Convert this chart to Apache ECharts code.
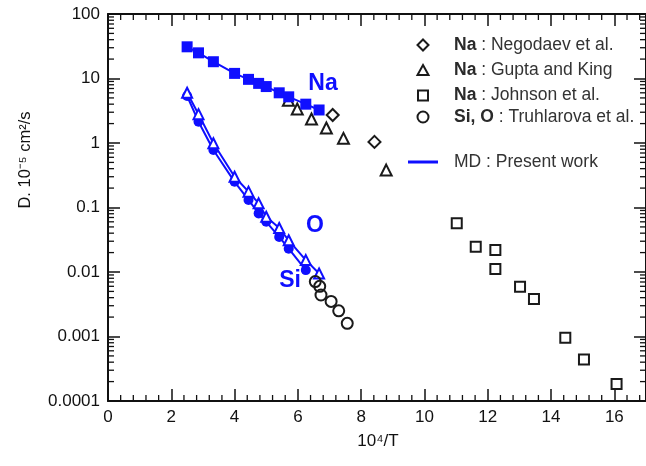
<!DOCTYPE html>
<html>
<head>
<meta charset="utf-8">
<script src="https://cdn.jsdelivr.net/npm/echarts@6/dist/echarts.min.js"></script>
<style>
html,body{margin:0;padding:0;background:#fff;}
#chart{width:646px;height:466px;}
</style>
</head>
<body>
<div id="chart"></div>
<script>
// ---- data ----
const mdX      = [2.5, 2.86, 3.33, 4.0, 4.44, 4.76, 5.0, 5.41, 5.71, 6.25, 6.67];
const naMD     = [31, 25, 18.2, 12.0, 9.7, 8.4, 7.5, 6.0, 5.2, 4.0, 3.25];
const siMD     = [5.35, 2.14, 0.78, 0.25, 0.131, 0.081, 0.060, 0.035, 0.023, 0.0107];
const oMD      = [6.0, 2.8, 0.99, 0.30, 0.176, 0.116, 0.072, 0.048, 0.031, 0.0153, 0.0095];

const negodaevX = [7.10, 8.42];
const negodaevY = [2.72, 1.04];
const guptaX    = [5.70, 5.98, 6.43, 6.90, 7.44, 8.79];
const guptaY    = [4.6, 3.37, 2.35, 1.71, 1.18, 0.38];
const johnsonX  = [11.02, 11.62, 12.24, 12.24, 13.02, 13.46, 14.45, 15.04, 16.07];
const johnsonY  = [0.057, 0.0247, 0.0219, 0.0111, 0.0059, 0.0038, 0.00096, 0.00044, 0.000184];
const truhX     = [6.55, 6.69, 6.73, 7.05, 7.29, 7.56];
const truhY     = [0.0071, 0.0060, 0.0044, 0.0035, 0.0025, 0.0016];

const yTickLabels = ['0.0001', '0.001', '0.01', '0.1', '1', '10', '100'];
const xTickLabels = ['0', '2', '4', '6', '8', '10', '12', '14', '16'];

// ---- helpers ----
const X_MIN = 0, X_MAX = 17, Y_MIN = 0.0001, Y_MAX = 100;
const BLUE = '#0f0fff';
const INK = '#111';
const MARK = '#1a1a1a';
const FONT = '"Liberation Sans", Arial, Helvetica, sans-serif';
const zip = (xs, ys) => xs.map((x, i) => [x, ys[i]]);

// minor tick positions (x: every 0.4, y: 2..9 per decade)
const minorTicks = [];
for (let i = 1; i * 0.4 < X_MAX; i++) {
  const v = Math.round(i * 0.4 * 10) / 10;
  if (Math.abs(v / 2 - Math.round(v / 2)) > 1e-6) minorTicks.push([v, Y_MIN, 0]);
}
for (let e = -4; e < 2; e++) {
  for (let m = 2; m <= 9; m++) minorTicks.push([X_MIN, m * Math.pow(10, e), 1]);
}

const chart = echarts.init(document.getElementById('chart'), null, {renderer: 'canvas'});

const baseX = {
  type: 'value', min: X_MIN, max: X_MAX, interval: 2,
  axisLine: {show: true, onZero: false, lineStyle: {color: INK, width: 2}},
  axisTick: {show: true, inside: true, length: 12, lineStyle: {color: INK, width: 1.5}},
  splitLine: {show: false}
};
const baseY = {
  type: 'log', logBase: 10, min: Y_MIN, max: Y_MAX, splitNumber: 6,
  axisLine: {show: true, onZero: false, lineStyle: {color: INK, width: 2}},
  axisTick: {show: true, inside: true, length: 12, lineStyle: {color: INK, width: 1.5}},
  splitLine: {show: false}
};

const openStyle = {color: 'rgba(255,255,255,0)', borderColor: MARK, borderWidth: 2, opacity: 1};
const legTxt = '17.5px ' + FONT;
const richB = {b: {fontWeight: 'bold', fontSize: 17.5, fontFamily: FONT, fill: '#2a2a2a'}};

chart.setOption({
  animation: false,
  backgroundColor: '#fff',
  grid: {left: 108, top: 14, width: 546, height: 387, containLabel: false},
  xAxis: [
    Object.assign({}, baseX, {
      position: 'bottom',
      axisLabel: {show: true, fontSize: 17, color: INK, fontFamily: FONT, margin: 8, showMaxLabel: false,
        formatter: v => { const i = Math.round(v / 2); return (Math.abs(v - i * 2) < 1e-6 && i < xTickLabels.length) ? xTickLabels[i] : ''; }}
    }),
    Object.assign({}, baseX, {position: 'top', axisLabel: {show: false}})
  ],
  yAxis: [
    Object.assign({}, baseY, {
      position: 'left',
      axisLabel: {show: true, fontSize: 17, color: INK, fontFamily: FONT, margin: 8,
        formatter: v => yTickLabels[Math.round(Math.log10(v)) + 4] || ''}
    }),
    Object.assign({}, baseY, {position: 'right', axisLabel: {show: false}})
  ],
  series: [
    {
      type: 'custom', name: 'minor ticks', silent: true, clip: false, z: 1,
      encode: {x: 0, y: 1},
      renderItem: function (params, api) {
        const kind = api.value(2);
        const v = kind === 0 ? api.value(0) : api.value(1);
        const st = {stroke: INK, lineWidth: 1.3};
        if (kind === 0) {
          const b = api.coord([v, Y_MIN]), t = api.coord([v, Y_MAX]);
          return {type: 'group', children: [
            {type: 'line', shape: {x1: b[0], y1: b[1], x2: b[0], y2: b[1] - 6}, style: st},
            {type: 'line', shape: {x1: t[0], y1: t[1], x2: t[0], y2: t[1] + 6}, style: st}
          ]};
        }
        const l = api.coord([X_MIN, v]), r = api.coord([X_MAX, v]);
        return {type: 'group', children: [
          {type: 'line', shape: {x1: l[0], y1: l[1], x2: l[0] + 6, y2: l[1]}, style: st},
          {type: 'line', shape: {x1: r[0], y1: r[1], x2: r[0] - 6, y2: r[1]}, style: st}
        ]};
      },
      data: minorTicks
    },
    {type: 'scatter', name: 'Gupta and King', symbol: 'triangle', symbolSize: 11, itemStyle: openStyle, data: zip(guptaX, guptaY), z: 2},
    {type: 'scatter', name: 'Negodaev et al.', symbol: 'diamond', symbolSize: 12, itemStyle: openStyle, data: zip(negodaevX, negodaevY), z: 2},
    {type: 'scatter', name: 'Johnson et al.', symbol: 'rect', symbolSize: 10, itemStyle: openStyle, data: zip(johnsonX, johnsonY), z: 2},
    {type: 'line', name: 'Na MD', symbol: 'rect', symbolSize: 11, showSymbol: true,
      lineStyle: {color: BLUE, width: 2}, itemStyle: {color: BLUE}, data: zip(mdX, naMD), z: 3},
    {type: 'line', name: 'Si MD', symbol: 'circle', symbolSize: 10, showSymbol: true,
      lineStyle: {color: BLUE, width: 2}, itemStyle: {color: BLUE}, data: zip(mdX.slice(0, siMD.length), siMD), z: 3},
    {type: 'line', name: 'O MD', symbol: 'triangle', symbolSize: 10, showSymbol: true,
      lineStyle: {color: BLUE, width: 2}, itemStyle: {color: '#fff', borderColor: BLUE, borderWidth: 2}, data: zip(mdX, oMD), z: 3},
    {type: 'scatter', name: 'Truhlarova et al.', symbol: 'circle', symbolSize: 11, itemStyle: openStyle, data: zip(truhX, truhY), z: 4}
  ],
  graphic: [
    // axis names
    {type: 'text', x: 25, y: 160, rotation: Math.PI / 2,
      style: {text: 'D. 10⁻⁵ cm²/s', font: '16.5px ' + FONT, fill: INK, textAlign: 'center', textVerticalAlign: 'middle'}},
    {type: 'text', x: 378, y: 441,
      style: {text: '10⁴/T', font: '17px ' + FONT, fill: INK, textAlign: 'center', textVerticalAlign: 'middle'}},
    // in-plot labels
    {type: 'text', x: 323, y: 84, style: {text: 'Na', font: 'bold 23px ' + FONT, fill: BLUE, textAlign: 'center', textVerticalAlign: 'middle'}},
    {type: 'text', x: 315, y: 226, style: {text: 'O', font: 'bold 23px ' + FONT, fill: BLUE, textAlign: 'center', textVerticalAlign: 'middle'}},
    {type: 'text', x: 290, y: 281, style: {text: 'Si', font: 'bold 23px ' + FONT, fill: BLUE, textAlign: 'center', textVerticalAlign: 'middle'}},
    // legend symbols
    {type: 'polygon', shape: {points: [[423, 39.5], [428.5, 45], [423, 50.5], [417.5, 45]]}, style: {fill: 'none', stroke: MARK, lineWidth: 2}},
    {type: 'polygon', shape: {points: [[423, 65], [428.5, 75], [417.5, 75]]}, style: {fill: 'none', stroke: MARK, lineWidth: 2}},
    {type: 'rect', shape: {x: 418, y: 90.5, width: 10, height: 10}, style: {fill: 'none', stroke: MARK, lineWidth: 2}},
    {type: 'circle', shape: {cx: 423, cy: 117, r: 5.5}, style: {fill: 'none', stroke: MARK, lineWidth: 2}},
    {type: 'line', shape: {x1: 408, y1: 162, x2: 438, y2: 162}, style: {stroke: BLUE, lineWidth: 3}},
    // legend texts
    {type: 'text', x: 454, y: 45, style: {text: '{b|Na} : Negodaev et al.', font: legTxt, fill: '#333', textVerticalAlign: 'middle', rich: richB}},
    {type: 'text', x: 454, y: 70, style: {text: '{b|Na} : Gupta and King', font: legTxt, fill: '#333', textVerticalAlign: 'middle', rich: richB}},
    {type: 'text', x: 454, y: 95, style: {text: '{b|Na} : Johnson et al.', font: legTxt, fill: '#333', textVerticalAlign: 'middle', rich: richB}},
    {type: 'text', x: 454, y: 117, style: {text: '{b|Si, O} : Truhlarova et al.', font: legTxt, fill: '#333', textVerticalAlign: 'middle', rich: richB}},
    {type: 'text', x: 454, y: 162, style: {text: 'MD : Present work', font: legTxt, fill: '#333', textVerticalAlign: 'middle'}}
  ]
});
</script>
</body>
</html>
